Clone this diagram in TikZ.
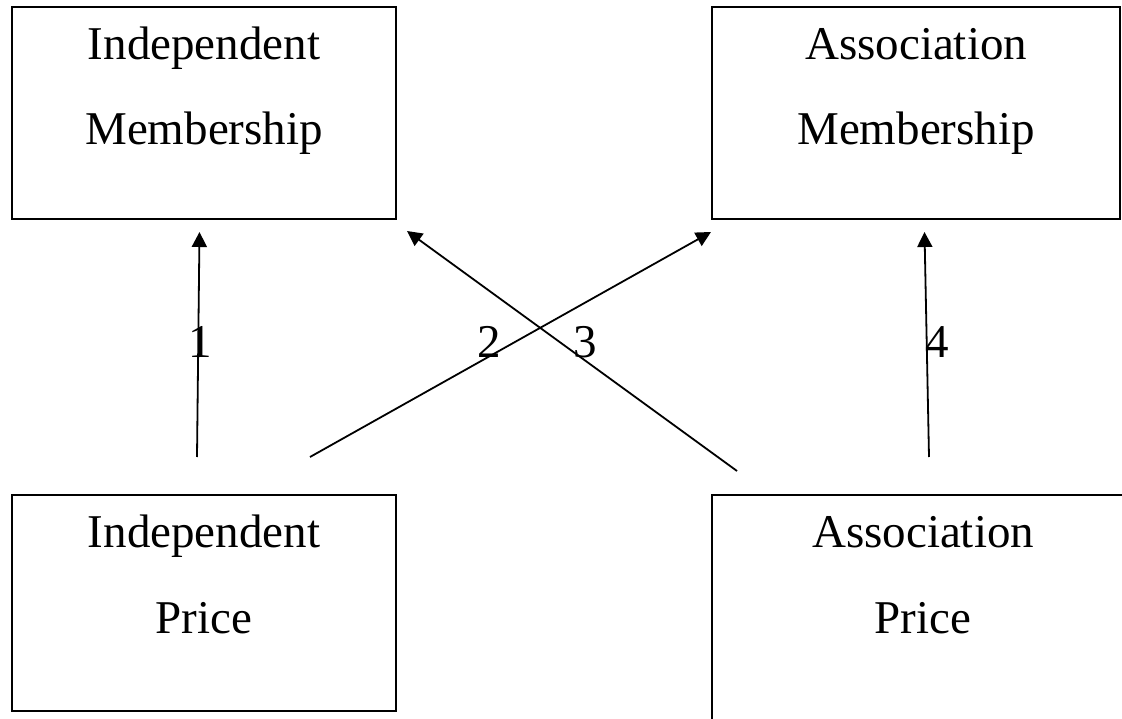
\documentclass[tikz,border=0pt]{standalone}
\usepackage{fontspec}
\setmainfont{Liberation Serif}
\usetikzlibrary{arrows.meta,calc}
\begin{document}
\begin{tikzpicture}[x=1pt,y=-1pt,
  box/.style={draw,line width=2.2pt,minimum width=384pt,minimum height=212pt,inner sep=0pt,anchor=north west},
  txt/.style={anchor=base,inner sep=0pt,font=\fontsize{47}{56}\selectfont},
  link/.style={line width=1.8pt,-{Triangle[length=15pt,width=15pt]}}]
\useasboundingbox (0,0) rectangle (1122,719);
\begin{scope}
\clip (0,0) rectangle (1122,719);
% the four variable boxes
\node[box] (im) at (11,6) {};
\node[box,minimum width=408pt] (am) at (711,6) {};
\node[box,minimum height=216pt] (ip) at (11,494) {};
\node[box,minimum width=422pt,minimum height=240pt] (ap) at (711,494) {};
% box captions
\node[txt] (im1) at ($(im.north)+(0,54)$) {Independent};
\node[txt] (im2) at ($(im.north)+(0,139)$) {Membership};
\node[txt] (am1) at ($(am.north)+(0,54)$) {Association};
\node[txt] (am2) at ($(am.north)+(0,139)$) {Membership};
\node[txt] (ip1) at ($(ip.north)+(0,53)$) {Independent};
\node[txt] (ip2) at ($(ip.north)+(0,139)$) {Price};
\node[txt] (ap1) at ($(ap.north)+(0,53)$) {Association};
\node[txt] (ap2) at ($(ap.north)+(0,139)$) {Price};
% arrow ends
\coordinate (s1) at (197,457);
\coordinate (e1) at (199.5,232);
\coordinate (s2) at (310,457);
\coordinate (e2) at (711,232);
\coordinate (s3) at (737,471);
\coordinate (e3) at (407,231);
\coordinate (s4) at (929,457);
\coordinate (e4) at (924.5,232);
\draw[link] (s1) -- (e1);
\draw[link] (s2) -- (e2);
\draw[link] (s3) -- (e3);
\draw[link] (s4) -- (e4);
% path numbers
\node[txt] (n1) at (200,357) {1};
\node[txt] (n2) at (489,357) {2};
\node[txt] (n3) at (585,357) {3};
\node[txt] (n4) at (937,357) {4};
\end{scope}
\end{tikzpicture}
\end{document}
